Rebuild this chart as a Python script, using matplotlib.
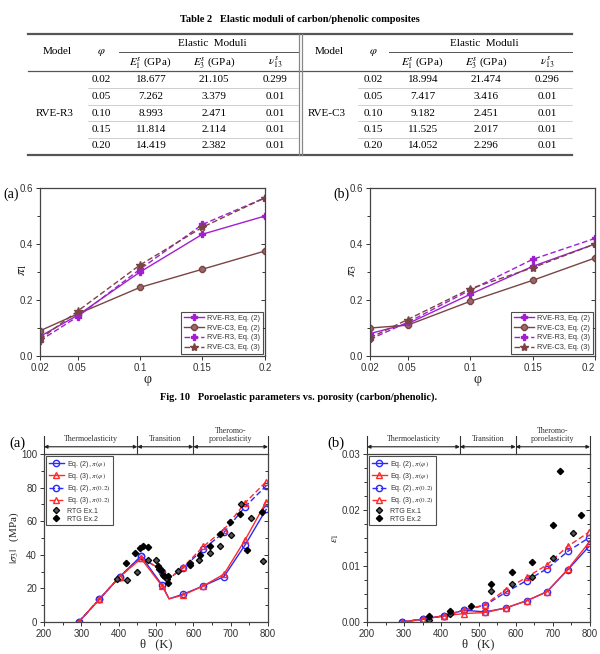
import matplotlib
matplotlib.use('Agg')
import matplotlib.pyplot as plt
from matplotlib.lines import Line2D
from matplotlib.ticker import MultipleLocator

plt.rcParams['font.family'] = ['Liberation Sans', 'DejaVu Sans']
plt.rcParams['mathtext.fontset'] = 'stix'
SERIF = ['Liberation Serif', 'DejaVu Serif']

# ---------------- data ----------------
# Table 2
tab_phi = ['0.02', '0.05', '0.10', '0.15', '0.20']
r3_E1 = ['18.677', '7.262', '8.993', '11.814', '14.419']
r3_E3 = ['21.105', '3.379', '2.471', '2.114', '2.382']
r3_nu = ['0.299', '0.01', '0.01', '0.01', '0.01']
c3_E1 = ['18.994', '7.417', '9.182', '11.525', '14.052']
c3_E3 = ['21.474', '3.416', '2.451', '2.017', '2.296']
c3_nu = ['0.296', '0.01', '0.01', '0.01', '0.01']

# Fig 10
phi = [0.02, 0.05, 0.10, 0.15, 0.20]
phi_ticks = [0.02, 0.05, 0.1, 0.15, 0.2]
phi_ticklabels = ['0.02', '0.05', '0.1', '0.15', '0.2']
pi1_r3_eq2 = [0.070, 0.145, 0.300, 0.435, 0.500]
pi1_c3_eq2 = [0.090, 0.150, 0.245, 0.310, 0.375]
pi1_r3_eq3 = [0.055, 0.140, 0.310, 0.470, 0.565]
pi1_c3_eq3 = [0.060, 0.160, 0.325, 0.460, 0.565]
pi3_r3_eq2 = [0.080, 0.115, 0.220, 0.320, 0.400]
pi3_c3_eq2 = [0.100, 0.110, 0.195, 0.270, 0.350]
pi3_r3_eq3 = [0.060, 0.120, 0.235, 0.345, 0.420]
pi3_c3_eq3 = [0.065, 0.130, 0.240, 0.315, 0.400]
fig10_labels = ['RVE-R3, Eq. (2)', 'RVE-C3, Eq. (2)', 'RVE-R3, Eq. (3)', 'RVE-C3, Eq. (3)']

# bottom figure (a): |sigma3|
theta_s = [293, 348, 403, 460, 517, 535, 572, 627, 682, 739, 795]
sig_eq2_phi = [0, 13.5, 27, 39.2, 21.8, 13.8, 16.5, 21.5, 27.0, 46.0, 67.0]
sig_eq3_phi = [0, 13.5, 27, 37.8, 21.2, 13.8, 16.0, 21.5, 28.5, 49.0, 71.5]
theta_d = [293, 348, 403, 460, 517, 530, 572, 627, 682, 739, 795]
sig_eq2_02 = [0, 13.5, 27, 39.0, 30.0, 25.0, 32.0, 43.5, 53.3, 68.7, 81.0]
sig_eq3_02 = [0, 13.5, 27, 38.0, 31.0, 25.0, 32.5, 45.0, 55.0, 71.0, 83.5]
mark_idx = [0, 1, 2, 3, 4, 6, 7, 8, 9, 10]
rtg1_t = [396, 421, 450, 479, 499, 509, 520, 529, 560, 590, 615, 645, 672, 700, 728, 755, 786]
rtg1_s = [25.3, 24.9, 29.6, 36.8, 37.2, 31.8, 28.2, 25.8, 30.6, 35.2, 36.8, 41.2, 45.1, 52.0, 70.0, 62.0, 36.4]
rtg2_t = [419, 444, 457, 466, 478, 505, 513, 522, 531, 533, 592, 618, 645, 672, 699, 726, 744, 784]
rtg2_s = [35.2, 41.2, 44.2, 45.1, 44.7, 33.2, 30.8, 27.2, 23.3, 27.6, 34.0, 39.6, 45.0, 52.3, 59.8, 64.4, 42.8, 65.2]

# bottom figure (b): eps1
theta_e = [294, 350, 406, 461, 518, 573, 630, 684, 740, 796]
eps_eq2_phi = [0, 0.0005, 0.0011, 0.0021, 0.0018, 0.0025, 0.0038, 0.0054, 0.0093, 0.0134]
eps_eq3_phi = [0, 0.0005, 0.0011, 0.0015, 0.0017, 0.0025, 0.0038, 0.0054, 0.0094, 0.0141]
eps_eq2_02 = [0, 0.0005, 0.0011, 0.0021, 0.0030, 0.0053, 0.0074, 0.0095, 0.0126, 0.0150]
eps_eq3_02 = [0, 0.0005, 0.0011, 0.0021, 0.0031, 0.0058, 0.0080, 0.0102, 0.0135, 0.0160]
rtgb1_t = [367, 424, 534, 590, 645, 701, 755]
rtgb1_e = [0.0004, 0.0015, 0.0056, 0.0068, 0.0080, 0.0114, 0.0159]
rtgb2_t = [367, 424, 479, 534, 590, 645, 701, 719, 776]
rtgb2_e = [0.0011, 0.0019, 0.0028, 0.0068, 0.0089, 0.0107, 0.0174, 0.0270, 0.0191]

bottom_labels = [r'Eq. (2), $\pi(\varphi)$', r'Eq. (3), $\pi(\varphi)$',
                 r'Eq. (2), $\pi(0.2)$', r'Eq. (3), $\pi(0.2)$', 'RTG Ex.1', 'RTG Ex.2']
region_bounds = [200, 450, 600, 800]
region_names = ['Thermoelasticity', 'Transition', 'Theromo-\nporoelasticity']

# ---------------- figure ----------------
W, H = 600, 654
fig = plt.figure(figsize=(6, 6.54), dpi=100)


def fx(x):
    return x / W


def fy(y):
    return 1 - y / H


def axes_px(l, t, r, b):
    return fig.add_axes([fx(l), fy(b), (r - l) / W, (b - t) / H])


def hline(x0, x1, y, lw, color):
    fig.add_artist(Line2D([fx(x0), fx(x1)], [fy(y), fy(y)], lw=lw, color=color))


def vline(x, y0, y1, lw, color):
    fig.add_artist(Line2D([fx(x), fx(x)], [fy(y0), fy(y1)], lw=lw, color=color))


def ftext(x, y, s, **kw):
    kw.setdefault('ha', 'center')
    kw.setdefault('va', 'center')
    fig.text(fx(x), fy(y), s, **kw)


# ---------------- table ----------------
ftext(300, 19, 'Table 2   Elastic moduli of carbon/phenolic composites',
      fontsize=7.5, fontweight='bold', family=SERIF)
hline(28, 572, 34, 1.6, '#555555')
hline(119, 298, 51.5, 0.7, '#555555')
hline(389, 572, 51.5, 0.7, '#555555')
hline(28, 572, 71, 0.9, '#555555')
hline(28, 572, 154.5, 1.6, '#555555')
rows_y = [80, 96.7, 113, 129.7, 146]
for i in range(4):
    ym = (rows_y[i] + rows_y[i + 1]) / 2
    hline(88, 298, ym, 0.4, '#aaaaaa')
    hline(358, 572, ym, 0.4, '#aaaaaa')
vline(299, 34, 154.5, 0.9, '#888888')
vline(302, 34, 154.5, 0.9, '#888888')

fs_tab = 8
for (x0, name, E1, E3, nu) in [(0, 'RVE-R3', r3_E1, r3_E3, r3_nu),
                               (272, 'RVE-C3', c3_E1, c3_E3, c3_nu)]:
    ftext(57 + x0, 52, 'Model', fontsize=fs_tab, family=SERIF)
    ftext(101 + x0, 52, r'$\varphi$', fontsize=fs_tab, family=SERIF)
    ftext(212 + x0, 43, 'Elastic  Moduli', fontsize=fs_tab, family=SERIF)
    ftext(150 + x0, 62, r'$E_1^s$ (GPa)', fontsize=fs_tab, family=SERIF)
    ftext(214 + x0, 62, r'$E_3^s$ (GPa)', fontsize=fs_tab, family=SERIF)
    ftext(275 + x0, 62, r'$\nu_{13}^s$', fontsize=fs_tab, family=SERIF)
    ftext(55 + x0, 113, name, fontsize=fs_tab, family=SERIF)
    for i, y in enumerate(rows_y):
        ftext(101 + x0, y, tab_phi[i], fontsize=fs_tab, family=SERIF)
        ftext(151 + x0, y, E1[i], fontsize=fs_tab, family=SERIF)
        ftext(214 + x0, y, E3[i], fontsize=fs_tab, family=SERIF)
        ftext(275 + x0, y, nu[i], fontsize=fs_tab, family=SERIF)

# ---------------- common styling ----------------
TICKC = '#333333'


def style(ax):
    for s in ax.spines.values():
        s.set_color('#444444')
        s.set_linewidth(0.9)
    ax.tick_params(which='both', direction='out', labelsize=7, colors=TICKC,
                   width=0.7, top=False, right=False, pad=2)
    ax.tick_params(which='major', length=3)
    ax.tick_params(which='minor', length=2)
    sec = ax.secondary_yaxis('right')
    sec.set_yticks(ax.get_yticks())
    sec.yaxis.set_minor_locator(ax.yaxis.get_minor_locator())
    sec.tick_params(which='both', direction='in', labelright=False, colors=TICKC, width=0.7)
    sec.tick_params(which='major', length=3)
    sec.tick_params(which='minor', length=2)
    sec.spines['right'].set_visible(False)


PURP = '#a21fd1'
BROWN = '#7a4444'

# ---------------- Fig 10 ----------------
for (l, r, lab, labx, ylab, series) in [
        (40, 265, '(a)', 11, r'$\pi_1$', [pi1_r3_eq2, pi1_c3_eq2, pi1_r3_eq3, pi1_c3_eq3]),
        (370, 595, '(b)', 341, r'$\pi_3$', [pi3_r3_eq2, pi3_c3_eq2, pi3_r3_eq3, pi3_c3_eq3])]:
    ax = axes_px(l, 188, r, 356)
    styles = [dict(color=PURP, ls='-', marker='P', ms=5, mfc=PURP, mec=PURP),
              dict(color=BROWN, ls='-', marker='8', ms=4.5, mfc='#9a6a6a', mec=BROWN),
              dict(color=PURP, ls=(0, (4, 2)), marker='P', ms=5, mfc=PURP, mec=PURP),
              dict(color=BROWN, ls=(0, (4, 2)), marker='*', ms=6, mfc=BROWN, mec=BROWN)]
    for s, st, name in zip(series, styles, fig10_labels):
        ax.plot(phi, s, lw=1.0, label=name, **st)
    ax.set_xlim(0.02, 0.2)
    ax.set_ylim(0, 0.6)
    ax.set_xticks(phi_ticks)
    ax.set_xticklabels(phi_ticklabels)
    ax.set_yticks([0.0, 0.2, 0.4, 0.6])
    ax.set_yticklabels(['0.0', '0.2', '0.4', '0.6'])
    ax.yaxis.set_minor_locator(MultipleLocator(0.1))
    style(ax)
    if r > 590:
        ax.get_xticklabels()[-1].set_ha('right')
    leg = ax.legend(loc='lower right', fontsize=5.3, frameon=True, fancybox=False,
                    edgecolor='#222222', handlelength=2.6, borderpad=0.4,
                    labelspacing=0.35, handletextpad=0.5, borderaxespad=0.25)
    leg.get_frame().set_linewidth(0.8)
    for t in leg.get_texts():
        t.set_color('#333333')
    cx = (l + r) / 2
    ftext(l - 18, 270, ylab, fontsize=10, rotation=90, color='#222222')
    ftext(cx - 5, 380, 'φ', fontsize=10, family=SERIF, color='#222222')
    ftext(labx, 194, lab, fontsize=10, family=SERIF)

ftext(299, 397, 'Fig. 10   Poroelastic parameters vs. porosity (carbon/phenolic).',
      fontsize=7.5, fontweight='bold', family=SERIF)

# ---------------- bottom figure ----------------
BLUE = '#2a2aff'
RED = '#ff2a2a'


def regions(ax):
    tr = ax.get_xaxis_transform()
    for b in region_bounds:
        ax.plot([b, b], [1.0, 1.105], transform=tr, color='#333333', lw=0.8, clip_on=False)
    for a, b, name in zip(region_bounds[:-1], region_bounds[1:], region_names):
        ax.annotate('', xy=(a, 1.043), xytext=(b, 1.043), xycoords=tr, textcoords=tr,
                    arrowprops=dict(arrowstyle='<|-|>', color='#222222', lw=0.8,
                                    mutation_scale=5, shrinkA=0, shrinkB=0),
                    annotation_clip=False)
        ax.text((a + b) / 2, 1.063, name, transform=tr, ha='center', va='bottom',
                fontsize=5.8, family=SERIF, color='#333333', linespacing=1.1)


def bottom(l, r, curves, ex1, ex2, ylim, yticks, yticklabels, yminor, ylab, ylabx, lab, labx):
    ax = axes_px(l, 454, r, 622)
    (ts, s2, s3), (td, d2, d3), mk = curves
    ax.plot(ts, s2, color=BLUE, lw=1.0, marker='o', ms=4.5, mfc='none', mec=BLUE,
            markevery=mk, label=bottom_labels[0])
    ax.plot(ts, s3, color=RED, lw=1.0, marker='^', ms=4.5, mfc='none', mec=RED,
            markevery=mk, label=bottom_labels[1])
    ax.plot(td, d2, color=BLUE, lw=1.0, ls=(0, (4, 2)), marker='o', ms=4.5, mfc='none',
            mec=BLUE, markevery=mk, label=bottom_labels[2])
    ax.plot(td, d3, color=RED, lw=1.0, ls=(0, (4, 2)), marker='^', ms=4.5, mfc='none',
            mec=RED, markevery=mk, label=bottom_labels[3])
    ax.plot(ex1[0], ex1[1], ls='none', marker='D', ms=3.2, mfc='#555555', mec='black',
            mew=0.9, label=bottom_labels[4])
    ax.plot(ex2[0], ex2[1], ls='none', marker='D', ms=3.2, mfc='black', mec='black',
            label=bottom_labels[5])
    ax.set_xlim(200, 800)
    ax.set_ylim(*ylim)
    ax.set_xticks([200, 300, 400, 500, 600, 700, 800])
    ax.xaxis.set_minor_locator(MultipleLocator(50))
    ax.set_yticks(yticks)
    ax.set_yticklabels(yticklabels)
    ax.yaxis.set_minor_locator(MultipleLocator(yminor))
    style(ax)
    leg = ax.legend(loc='upper left', fontsize=5.0, frameon=True, fancybox=False,
                    edgecolor='#222222', handlelength=2.2, borderpad=0.3,
                    labelspacing=0.18, handletextpad=0.5, borderaxespad=0.35)
    leg.get_frame().set_linewidth(0.8)
    for t in leg.get_texts():
        t.set_color('#333333')
    regions(ax)
    cx = (l + r) / 2
    ftext(cx, 644, 'θ   (K)', fontsize=9, family=SERIF, color='#222222')
    ftext(ylabx, 538, ylab, fontsize=8, rotation=90, family=SERIF, color='#222222')
    ftext(labx, 443, lab, fontsize=10.5, family=SERIF)
    return ax


bottom(44, 268,
       ((theta_s, sig_eq2_phi, sig_eq3_phi), (theta_d, sig_eq2_02, sig_eq3_02), mark_idx),
       (rtg1_t, rtg1_s), (rtg2_t, rtg2_s),
       (0, 100), [0, 20, 40, 60, 80, 100], ['0', '20', '40', '60', '80', '100'], 10,
       r'$|\sigma_3|$   (MPa)', 14, '(a)', 17)

bottom(367, 590,
       ((theta_e, eps_eq2_phi, eps_eq3_phi), (theta_e, eps_eq2_02, eps_eq3_02),
        list(range(len(theta_e)))),
       (rtgb1_t, rtgb1_e), (rtgb2_t, rtgb2_e),
       (0, 0.03), [0, 0.01, 0.02, 0.03], ['0.00', '0.01', '0.02', '0.03'], 0.0025,
       r'$\varepsilon_1$', 336, '(b)', 336)

fig.savefig('out.png', dpi=100)
